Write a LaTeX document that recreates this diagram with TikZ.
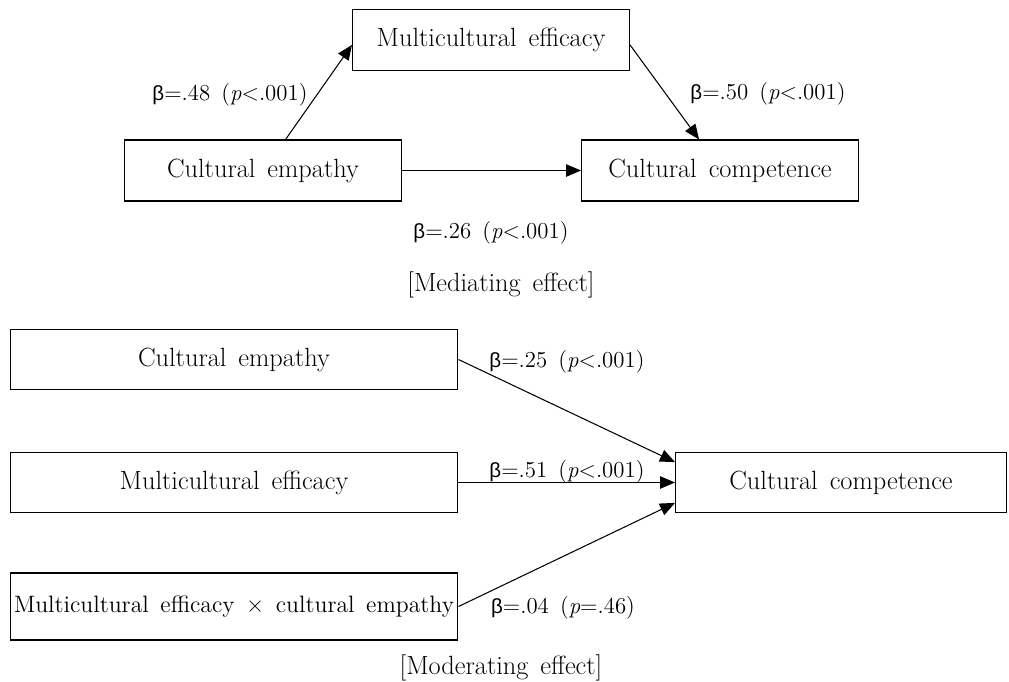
\documentclass[tikz,border=0pt]{standalone}
\usepackage{fontspec}
\setmainfont{Latin Modern Roman}[WordSpace=1.5]
\newfontfamily\grk{Liberation Sans}[Scale=0.9]
\usepackage{tikz}
\usetikzlibrary{arrows.meta}
\newcommand{\bt}{{\grk β}}

\begin{document}
\begin{tikzpicture}[x=0.02cm, y=-0.02cm, font=\fontsize{15}{18}\selectfont,
		boxnode/.style={rectangle,draw=black,line width=0.6pt,inner sep=0pt,minimum width=5.54cm,minimum height=1.22cm},
		widenode/.style={rectangle,draw=black,line width=0.6pt,inner sep=0pt,minimum width=8.96cm,minimum height=1.2cm},
		betanode/.style={font=\fontsize{13}{16}\selectfont},
		arr/.style={line width=0.6pt,-{Triangle[length=0.3cm,width=0.25cm]}}]
		\useasboundingbox (0,0) rectangle (1009,681);
		% mediating effect
		\node[boxnode] (efficacy) at (491,40) {Multicultural efficacy};
		\node[boxnode] (empathy) at (263,170.5) {Cultural empathy};
		\node[boxnode] (competence) at (720,170.5) {Cultural competence};
		\draw[arr] (empathy.54) -- (efficacy.182);
		\draw[arr] (efficacy.358) -- (competence.124);
		\draw[arr] (empathy) -- (competence);
		\node[betanode] (betaA) at (230,95) {\bt=.48 (\textit{p}<.001)};
		\node[betanode] (betaB) at (768,94) {\bt=.50 (\textit{p}<.001)};
		\node[betanode] (betaC) at (491,233) {\bt=.26 (\textit{p}<.001)};
		\node (mediating) at (501,285) {[Mediating effect]};
		% moderating effect
		\node[widenode] (empathyB) at (234,359.5) {Cultural empathy};
		\node[widenode] (efficacyB) at (234,482.5) {Multicultural efficacy};
		\node[widenode,minimum height=1.34cm,font=\fontsize{13.5}{16}\selectfont] (interaction) at (234,606.5) {Multicultural efficacy × cultural empathy};
		\node[rectangle,draw=black,line width=0.6pt,inner sep=0pt,minimum width=6.62cm,minimum height=1.2cm] (competenceB) at (841,482.5) {Cultural competence};
		\draw[arr] (empathyB.east) -- (competenceB.173);
		\draw[arr] (efficacyB.east) -- (competenceB.west);
		\draw[arr] (interaction.east) -- (competenceB.187);
		\node[betanode] (betaD) at (567,362) {\bt=.25 (\textit{p}<.001)};
		\node[betanode] (betaE) at (567,472) {\bt=.51 (\textit{p}<.001)};
		\node[betanode] (betaF) at (563,608) {\bt=.04 (\textit{p}=.46)};
		\node (moderating) at (501,668) {[Moderating effect]};
	\end{tikzpicture}
\end{document}
